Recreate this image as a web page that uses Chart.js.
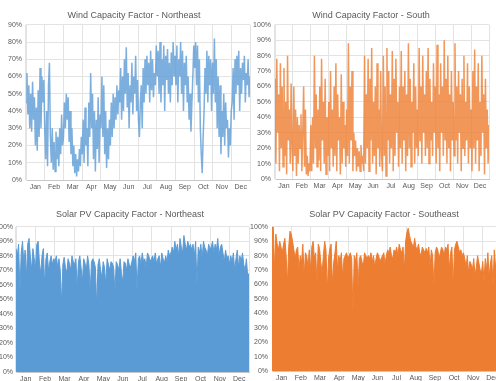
<!DOCTYPE html>
<html>
<head>
<meta charset="utf-8">
<script src="https://cdn.jsdelivr.net/npm/chart.js@4.4.0/dist/chart.umd.min.js"></script>
<style>
  html, body { margin: 0; padding: 0; background: #fff; width: 496px; height: 381px; overflow: hidden; }
  .panel { position: absolute; overflow: hidden; background: #fff; }
  .panel canvas { position: absolute; top: 0; }
</style>
</head>
<body>
<div class="panel" style="left:0;top:0;width:252px;height:195px"><canvas id="windNE"></canvas></div>
<div class="panel" style="left:252px;top:0;width:244px;height:195px"><canvas id="windS"></canvas></div>
<div class="panel" style="left:0;top:195px;width:250px;height:186px"><canvas id="solarNE"></canvas></div>
<div class="panel" style="left:250px;top:195px;width:246px;height:186px"><canvas id="solarSE"></canvas></div>
<script>
const months = ['Jan', 'Feb', 'Mar', 'Apr', 'May', 'Jun', 'Jul', 'Aug', 'Sep', 'Oct', 'Nov', 'Dec'];

// wind capacity factor, %, 20 readings per month
const windNortheast = [
  45, 62, 38, 55, 30, 50, 28, 57, 35, 48, 20, 42, 17, 52, 25, 65, 30, 60, 45, 58,
  30, 12, 40, 8, 55, 68, 25, 10, 30, 6, 22, 5, 28, 12, 25, 8, 30, 15, 38, 20,
  25, 45, 30, 50, 35, 48, 22, 40, 15, 30, 8, 20, 4, 15, 2, 12, 5, 18, 8, 25,
  15, 35, 10, 42, 20, 30, 8, 45, 25, 62, 30, 50, 12, 40, 5, 35, 18, 48, 10, 38,
  30, 60, 25, 55, 15, 40, 7, 30, 12, 35, 20, 45, 25, 50, 30, 48, 35, 55, 38, 52,
  45, 65, 35, 60, 40, 70, 50, 77, 42, 62, 30, 55, 45, 68, 38, 60, 50, 72, 40, 58,
  35, 25, 45, 55, 30, 65, 45, 70, 50, 72, 55, 68, 45, 75, 52, 70, 48, 62, 55, 78,
  60, 75, 50, 80, 45, 70, 55, 78, 40, 72, 58, 76, 50, 68, 45, 74, 55, 80, 60, 72,
  55, 78, 45, 70, 60, 80, 50, 75, 40, 68, 55, 72, 45, 60, 35, 50, 28, 45, 60, 78,
  65, 80, 55, 78, 45, 70, 30, 15, 4, 25, 40, 65, 50, 75, 45, 72, 55, 70, 40, 68,
  50, 82, 45, 70, 30, 60, 25, 55, 15, 40, 25, 50, 20, 45, 30, 35, 13, 30, 20, 40,
  45, 65, 35, 70, 50, 72, 55, 75, 40, 65, 50, 68, 58, 72, 45, 62, 55, 70, 48, 60
];

const windSouth = [
  65, 10, 78, 30, 55, 5, 75, 20, 60, 8, 72, 15, 50, 3, 80, 25, 45, 10, 62, 20,
  5, 60, 15, 45, 2, 40, 10, 35, 20, 42, 5, 30, 60, 8, 45, 3, 15, 2, 10, 5,
  35, 5, 40, 10, 80, 20, 55, 8, 45, 12, 60, 5, 78, 25, 50, 10, 65, 3, 40, 15,
  50, 5, 70, 20, 45, 8, 60, 15, 75, 5, 55, 25, 40, 3, 68, 10, 50, 20, 35, 8,
  45, 15, 88, 10, 60, 25, 70, 5, 30, 15, 25, 5, 20, 8, 18, 5, 22, 10, 15, 5,
  80, 10, 55, 20, 78, 5, 65, 25, 85, 10, 50, 15, 60, 3, 75, 20, 45, 8, 70, 15,
  5, 80, 15, 60, 2, 85, 25, 70, 10, 55, 20, 83, 5, 65, 15, 78, 30, 50, 8, 60,
  20, 83, 10, 60, 25, 70, 5, 55, 15, 88, 20, 65, 8, 50, 30, 75, 10, 60, 20, 45,
  15, 85, 25, 60, 10, 80, 30, 55, 15, 70, 20, 85, 10, 65, 25, 50, 15, 75, 30, 60,
  10, 87, 20, 55, 5, 75, 30, 60, 15, 90, 25, 65, 10, 80, 20, 55, 5, 70, 25, 50,
  15, 88, 25, 60, 10, 70, 30, 55, 5, 65, 20, 80, 15, 50, 25, 75, 10, 60, 20, 45,
  5, 70, 20, 84, 10, 60, 25, 75, 5, 50, 15, 80, 30, 55, 3, 65, 20, 45, 10, 35
];

// solar PV capacity factor, daily peak %, 15 readings per month
const solarNortheast = [
  85, 80, 88, 55, 82, 90, 75, 84, 65, 88, 92, 80, 70, 85, 78,
  72, 88, 90, 75, 68, 80, 85, 60, 78, 82, 70, 76, 80, 74, 78,
  76, 80, 72, 78, 70, 47, 74, 79, 72, 68, 78, 75, 70, 80, 76,
  74, 78, 58, 76, 80, 72, 62, 78, 75, 70, 80, 74, 55, 76, 78,
  76, 72, 45, 74, 78, 70, 65, 76, 72, 60, 78, 74, 70, 76, 75,
  72, 55, 76, 74, 70, 78, 68, 62, 76, 75, 70, 78, 74, 72, 76,
  80, 76, 82, 56, 78, 80, 74, 82, 76, 78, 72, 82, 80, 76, 78,
  80, 76, 82, 74, 78, 80, 72, 82, 78, 75, 80, 76, 84, 80, 82,
  86, 82, 90, 84, 88, 80, 92, 86, 82, 94, 88, 84, 90, 86, 88,
  84, 88, 80, 90, 60, 86, 82, 88, 78, 90, 86, 84, 80, 88, 85,
  86, 90, 82, 88, 84, 92, 80, 86, 88, 82, 76, 84, 78, 80, 74,
  80, 76, 82, 70, 78, 84, 72, 80, 76, 82, 74, 70, 78, 66, 68
];

const solarSoutheast = [
  100, 100, 70, 95, 88, 84, 90, 86, 82, 88, 92, 80, 60, 86, 97,
  95, 90, 84, 78, 84, 86, 70, 80, 75, 88, 65, 82, 80, 72, 84,
  70, 86, 90, 78, 82, 60, 88, 85, 75, 68, 80, 90, 84, 55, 78,
  85, 88, 60, 75, 82, 90, 70, 80, 76, 82, 65, 78, 80, 82, 78,
  80, 82, 78, 40, 80, 76, 82, 58, 78, 80, 76, 72, 82, 80, 78,
  80, 78, 82, 76, 80, 72, 78, 82, 80, 76, 78, 80, 82, 74, 80,
  84, 82, 86, 80, 78, 84, 82, 86, 80, 88, 84, 82, 86, 70, 90,
  96, 99, 94, 90, 88, 85, 92, 86, 84, 88, 82, 80, 86, 84, 82,
  85, 82, 86, 72, 84, 80, 58, 82, 86, 84, 78, 82, 86, 84, 80,
  86, 84, 88, 70, 82, 86, 58, 84, 88, 90, 86, 82, 84, 80, 82,
  78, 72, 80, 68, 76, 74, 70, 78, 66, 72, 80, 75, 70, 68, 76,
  62, 78, 70, 82, 65, 75, 80, 58, 84, 72, 78, 68, 80, 85, 82
];

const BLUE = '#5b9bd5';
const ORANGE = '#ed7d31';
const TEXT = '#595959';
const GRID = '#e3e3e3';
const FONT = 'Liberation Sans';

function makeChart(id, p) {
  const canvas = document.getElementById(id);
  canvas.width = p.w;
  canvas.height = p.h;
  canvas.style.left = p.left + 'px';

  const ds = {
    data: p.values.map((v, i) => ({ x: i, y: v })),
    xAxisID: 'x',
    yAxisID: 'y',
    pointRadius: 0,
    tension: 0,
    borderWidth: p.area ? 1 : 1.5,
    borderColor: p.line,
    fill: p.area ? 'origin' : false,
    backgroundColor: p.color
  };

  new Chart(canvas, {
    type: 'line',
    data: { datasets: [ds] },
    options: {
      responsive: false,
      animation: false,
      layout: { padding: 0 },
      plugins: {
        legend: { display: false },
        tooltip: { enabled: false },
        title: {
          display: true,
          text: p.title,
          color: TEXT,
          font: { family: FONT, size: 9, weight: 'normal', lineHeight: 1.2 },
          padding: { top: p.titleTop, bottom: p.titleBottom }
        }
      },
      scales: {
        x: { type: 'linear', axis: 'x', display: false, min: 0, max: p.values.length - 1 },
        m: {
          type: 'category', axis: 'x', position: 'bottom', labels: months, offset: true,
          grid: { offset: true, color: GRID, drawTicks: false },
          border: { color: '#c8c8c8' },
          ticks: { color: TEXT, font: { family: FONT, size: 7 }, padding: 3, maxRotation: 0, autoSkip: false },
          afterFit: s => { s.height = p.xh; }
        },
        y: {
          min: 0, max: p.ymax,
          grid: { color: GRID, drawTicks: false },
          border: { color: GRID },
          ticks: { stepSize: 10, color: TEXT, font: { family: FONT, size: 7 }, padding: p.yPadText, callback: v => v + '%' },
          afterFit: s => { s.width = p.yw; }
        },
        yPad: {
          type: 'linear', axis: 'y', position: 'right',
          ticks: { display: false }, grid: { display: false }, border: { display: false },
          afterFit: s => { s.width = p.rw; }
        }
      }
    }
  });
}

makeChart('windNE', {
  title: 'Wind Capacity Factor - Northeast', values: windNortheast, ymax: 90,
  line: 'rgba(91,155,213,0.8)', color: BLUE, area: false,
  left: 0, w: 268, h: 195, yw: 26, rw: 18, xh: 15, titleTop: 10, titleBottom: 4, yPadText: 4
});

makeChart('windS', {
  title: 'Wind Capacity Factor - South', values: windSouth, ymax: 100,
  line: 'rgba(237,125,49,0.8)', color: ORANGE, area: false,
  left: 0, w: 238, h: 195, yw: 23, rw: 1, xh: 16, titleTop: 10, titleBottom: 4, yPadText: 4
});

makeChart('solarNE', {
  title: 'Solar PV Capacity Factor - Northeast', values: solarNortheast, ymax: 100,
  line: BLUE, color: BLUE, area: true,
  left: -16, w: 292, h: 192, yw: 32, rw: 27, xh: 15, titleTop: 14, titleBottom: 7, yPadText: 3
});

makeChart('solarSE', {
  title: 'Solar PV Capacity Factor - Southeast', values: solarSoutheast, ymax: 100,
  line: ORANGE, color: ORANGE, area: true,
  left: 0, w: 268, h: 191, yw: 22, rw: 16, xh: 15, titleTop: 14, titleBottom: 7, yPadText: 4
});
</script>
</body>
</html>
